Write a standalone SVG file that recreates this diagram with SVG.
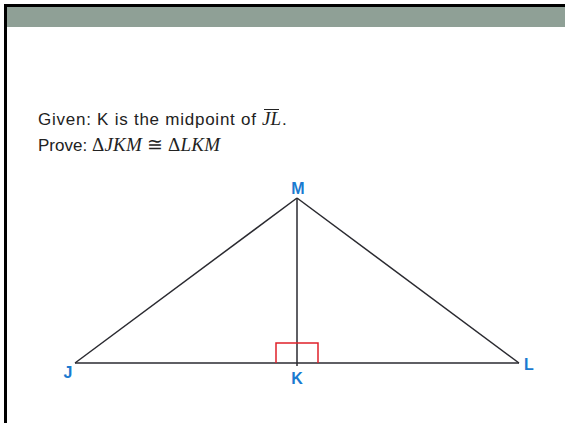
<svg xmlns="http://www.w3.org/2000/svg" width="565" height="423" viewBox="0 0 565 423">
<style>
.t{font-family:"Liberation Sans",Arial,sans-serif;font-size:17px;fill:#222}
.m{font-family:"Liberation Serif","DejaVu Serif",serif;font-style:italic;font-size:19px;fill:#222}
.mu{font-family:"Liberation Serif","DejaVu Serif",serif;font-size:19px;fill:#222}
.lbl{font-family:"Liberation Sans",Arial,sans-serif;font-size:16px;font-weight:bold;fill:#1a7ad0;text-anchor:middle}
.edge{stroke:#2a2a30;stroke-width:1.5;fill:none}
</style>
<rect x="0" y="0" width="565" height="423" fill="#fff"/>
<rect x="4" y="4" width="561" height="3" fill="#000"/>
<rect x="4" y="4" width="3" height="419" fill="#000"/>
<rect x="7" y="7" width="558" height="20" fill="#8fa096"/>
<g id="text">
<text class="t" x="38" y="125" textLength="218" lengthAdjust="spacing">Given: K is the midpoint of</text>
<text class="m" x="262" y="125">JL</text>
<text class="t" x="282" y="125">.</text>
<line x1="264" y1="109.5" x2="279" y2="109.5" stroke="#222" stroke-width="1"/>
<text class="t" x="38" y="151">Prove:</text>
<text x="92" y="151" textLength="128" lengthAdjust="spacing"><tspan class="mu">Δ</tspan><tspan class="m">JKM</tspan><tspan class="mu"> ≅ Δ</tspan><tspan class="m">LKM</tspan></text>
</g>
<g id="connectors">
<line class="edge" x1="75" y1="363" x2="297" y2="198"/>
<line class="edge" x1="297" y1="198" x2="519" y2="363"/>
<line class="edge" x1="75" y1="363" x2="519" y2="363"/>
<line class="edge" x1="297" y1="198" x2="297" y2="366" stroke-width="2"/>
<polyline points="276,363 276,343 318,343 318,363" fill="none" stroke="#e0202a" stroke-width="1.5"/>
</g>
<g id="node-M"><text class="lbl" x="298" y="194">M</text></g>
<g id="node-J"><text class="lbl" x="68" y="378">J</text></g>
<g id="node-K"><text class="lbl" x="297" y="384">K</text></g>
<g id="node-L"><text class="lbl" x="529" y="370">L</text></g>
</svg>
